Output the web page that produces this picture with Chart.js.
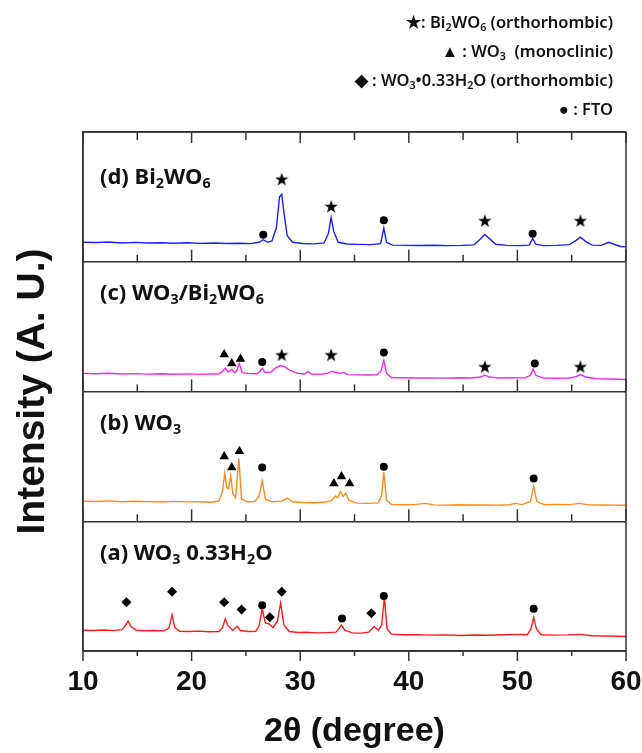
<!DOCTYPE html>
<html>
<head>
<meta charset="utf-8">
<script src="https://cdn.jsdelivr.net/npm/chart.js@4/dist/chart.umd.min.js"></script>
<style>
  body { margin: 0; background: #fff; }
  #wrap { position: relative; width: 642px; height: 753px; }
  #xrd { position: absolute; left: 0; top: 0; }
  .legend { position: absolute; right: 29px; font-family: "Noto Sans", sans-serif; font-weight: 600; font-size: 16.5px; line-height: 20px; color: #111; text-align: right; white-space: nowrap; }
  .lbl { position: absolute; left: 100px; font-family: "Noto Sans", sans-serif; font-weight: 700; font-size: 22px; line-height: 24px; color: #111; white-space: nowrap; }
  sub { font-size: 0.65em; vertical-align: -0.25em; line-height: 0; }
</style>
</head>
<body>
<div id="wrap">
  <canvas id="xrd" width="642" height="753"></canvas>
  <div class="legend" style="top:12px">★: Bi<sub>2</sub>WO<sub>6</sub> (orthorhombic)</div>
  <div class="legend" style="top:41px">▲ : WO<sub>3</sub>&nbsp; (monoclinic)</div>
  <div class="legend" style="top:70px">◆ : WO<sub>3</sub>•0.33H<sub>2</sub>O (orthorhombic)</div>
  <div class="legend" style="top:99px">● : FTO</div>
  <div class="lbl" style="top:163px">(d) Bi<sub>2</sub>WO<sub>6</sub></div>
  <div class="lbl" style="top:279px">(c) WO<sub>3</sub>/Bi<sub>2</sub>WO<sub>6</sub></div>
  <div class="lbl" style="top:409px">(b) WO<sub>3</sub></div>
  <div class="lbl" style="top:539px">(a) WO<sub>3</sub> 0.33H<sub>2</sub>O</div>
</div>
<script>
// 2theta positions and intensities (fraction of a panel height)
const thetaA = [10, 11, 12, 12.8, 13.6, 13.9, 14.15, 14.4, 14.9, 15.8, 16.6, 17.4, 17.9, 18.2, 18.45, 18.9, 19.8, 20.7, 21.6, 22.5, 22.85, 23.1, 23.35, 23.8, 24.2, 24.5, 25.2, 25.9, 26.2, 26.5, 26.8, 27.1, 27.5, 27.9, 28.2, 28.5, 29.0, 29.8, 30.6, 31.5, 32.4, 33.3, 33.6, 33.8, 34.1, 34.8, 35.6, 36.3, 36.8, 37.2, 37.5, 37.75, 38.0, 38.4, 39.5, 40.8, 42.0, 43.4, 44.8, 46.0, 47.3, 48.6, 49.8, 50.9, 51.25, 51.5, 51.75, 52.2, 53.2, 54.6, 55.7, 56.9, 58.1, 59.2, 60];
const intA = [.160, .158, .162, .157, .165, .195, .230, .190, .160, .156, .158, .155, .175, .280, .180, .152, .150, .153, .148, .150, .180, .250, .195, .160, .190, .158, .150, .152, .190, .325, .215, .210, .180, .230, .370, .200, .150, .143, .145, .140, .142, .145, .175, .200, .160, .140, .138, .145, .187, .160, .200, .410, .170, .130, .125, .126, .122, .124, .120, .123, .121, .125, .128, .125, .170, .260, .170, .125, .122, .124, .128, .118, .116, .114, .112];

const thetaB = [10, 11.2, 12.4, 13.6, 14.8, 16.0, 17.2, 18.4, 19.6, 20.8, 21.8, 22.5, 22.85, 23.05, 23.25, 23.4, 23.6, 23.8, 24.05, 24.35, 24.6, 25.1, 25.8, 26.2, 26.5, 26.8, 27.4, 28.3, 28.8, 29.3, 30.2, 31.2, 32.2, 32.9, 33.25, 33.45, 33.7, 33.95, 34.2, 34.5, 35.2, 36.2, 37.2, 37.5, 37.7, 37.95, 38.4, 39.4, 40.5, 41.5, 42.3, 43.4, 44.6, 45.8, 47.0, 48.2, 49.3, 49.8, 50.4, 51.2, 51.5, 51.8, 52.5, 53.6, 54.8, 55.7, 56.6, 57.8, 59.0, 60];
const intB = [.155, .152, .157, .150, .154, .151, .148, .153, .149, .150, .147, .155, .230, .370, .260, .250, .350, .210, .180, .485, .170, .150, .152, .190, .310, .170, .150, .155, .177, .150, .145, .143, .146, .160, .195, .180, .230, .190, .215, .160, .140, .138, .142, .200, .380, .160, .130, .127, .128, .138, .126, .124, .127, .125, .126, .124, .127, .138, .128, .150, .270, .150, .127, .130, .128, .138, .126, .125, .124, .123];

const thetaC = [10, 11.2, 12.4, 13.6, 14.8, 16.0, 17.2, 18.4, 19.6, 20.8, 21.8, 22.5, 22.85, 23.1, 23.35, 23.7, 23.95, 24.15, 24.4, 24.65, 25.3, 26.0, 26.3, 26.5, 26.8, 27.3, 27.8, 28.2, 28.6, 29.1, 29.8, 30.4, 30.7, 31.0, 31.8, 32.5, 32.9, 33.3, 33.7, 34.0, 34.4, 35.2, 36.2, 37.1, 37.45, 37.7, 37.95, 38.4, 39.5, 40.8, 42.0, 43.3, 44.6, 45.8, 46.6, 47.0, 47.4, 48.3, 49.5, 50.7, 51.2, 51.45, 51.7, 52.4, 53.6, 54.8, 55.4, 55.8, 56.3, 57.3, 58.5, 59.3, 60];
const intC = [.140, .137, .141, .135, .138, .134, .137, .133, .136, .132, .135, .136, .155, .180, .150, .170, .145, .160, .215, .145, .138, .137, .155, .180, .145, .150, .185, .200, .190, .160, .140, .135, .155, .135, .132, .140, .155, .148, .140, .146, .130, .128, .127, .128, .160, .240, .140, .108, .106, .104, .105, .103, .106, .104, .112, .126, .112, .104, .106, .105, .125, .173, .125, .103, .102, .104, .115, .130, .112, .098, .096, .094, .092];

const thetaD = [10, 11.2, 12.4, 13.6, 14.8, 16.0, 17.2, 18.4, 19.6, 20.8, 22.0, 23.2, 24.4, 25.4, 26.2, 26.6, 27.0, 27.4, 27.8, 28.1, 28.3, 28.5, 28.8, 29.3, 30.2, 31.2, 32.2, 32.6, 32.85, 33.1, 33.5, 34.3, 35.3, 36.5, 37.4, 37.7, 37.95, 38.5, 39.7, 41.0, 42.3, 43.6, 44.9, 46.0, 46.6, 47.0, 47.4, 48.0, 49.0, 50.2, 51.1, 51.4, 51.7, 52.4, 53.6, 54.8, 55.4, 55.8, 56.3, 56.9, 57.7, 58.4, 58.9, 59.5, 60];
const intD = [.150, .148, .152, .145, .149, .144, .147, .143, .146, .142, .144, .141, .143, .140, .150, .170, .150, .160, .260, .500, .520, .380, .200, .150, .141, .138, .145, .220, .340, .230, .150, .137, .134, .132, .140, .260, .150, .128, .126, .125, .127, .124, .126, .130, .175, .210, .180, .135, .126, .124, .128, .180, .135, .124, .126, .132, .165, .190, .155, .128, .126, .150, .135, .118, .115];

// phase markers: [2theta, height] per panel
const starsD = [[28.3, .64], [32.85, .43], [47.0, .32], [55.8, .32]];
const ftoD = [[26.6, .208], [37.7, .32], [51.4, .215]];
const triC = [[23.0, .286], [23.7, .215], [24.5, .25]];
const ftoC = [[26.5, .228], [37.7, .30], [51.6, .215]];
const starsC = [[28.3, .286], [32.85, .286], [47.0, .195], [55.8, .195]];
const triB = [[23.0, .50], [23.7, .415], [24.4, .54], [33.1, .29], [33.8, .345], [34.55, .29]];
const ftoB = [[26.5, .415], [37.7, .42], [51.5, .33]];
const diaA = [[14.0, .375], [18.2, .457], [23.0, .375], [24.6, .32], [27.2, .26], [28.3, .457], [36.55, .29]];
const ftoA = [[26.5, .352], [33.85, .25], [37.7, .424], [51.5, .325]];

const xTicks = [10, 15, 20, 25, 30, 35, 40, 45, 50, 55, 60];

const trace = (th, v, off) => th.map((t, i) => ({ x: t, y: v[i] + off }));
const marks = (list, off) => list.map(([t, v]) => ({ x: t, y: v + off }));

function starImage(size) {
  const c = document.createElement('canvas');
  c.width = c.height = size;
  const g = c.getContext('2d');
  g.fillStyle = '#000';
  g.beginPath();
  for (let i = 0; i < 10; i++) {
    const r = i % 2 ? size * 0.2 : size * 0.5;
    const a = -Math.PI / 2 + i * Math.PI / 5;
    g.lineTo(size / 2 + r * Math.cos(a), size / 2 + 1 + r * Math.sin(a));
  }
  g.closePath();
  g.fill();
  return c;
}

const lineDs = (data, color) => ({ type: 'line', data, borderColor: color, borderWidth: 1.4, pointRadius: 0, tension: 0, order: 2 });
const markDs = (data, style, r) => ({ type: 'scatter', data, pointStyle: style, pointRadius: r, backgroundColor: '#000', borderColor: '#000', borderWidth: 0, order: 1 });

const frameTicks = {
  id: 'frameTicks',
  afterDraw(chart) {
    const { ctx, chartArea: { left, right, top, bottom }, scales: { x, y } } = chart;
    ctx.save();
    ctx.strokeStyle = '#333';
    ctx.lineWidth = 1.5;
    ctx.strokeRect(left, top, right - left, bottom - top);
    ctx.beginPath();
    xTicks.forEach(v => {
      const px = x.getPixelForValue(v);
      const major = v % 10 === 0;
      ctx.moveTo(px, top); ctx.lineTo(px, top + (major ? 11 : 8));
      [1, 2, 3].forEach(b => {
        const py = y.getPixelForValue(b);
        ctx.moveTo(px, py); ctx.lineTo(px, py - (major ? 12 : 7));
      });
      ctx.moveTo(px, bottom); ctx.lineTo(px, bottom + (major ? 10 : 5));
    });
    ctx.stroke();
    ctx.restore();
  }
};

const axisFont = "'Liberation Sans', Arial, sans-serif";

new Chart(document.getElementById('xrd'), {
  data: {
    datasets: [
      lineDs(trace(thetaA, intA, 0), '#ff1a1a'),
      lineDs(trace(thetaB, intB, 1), '#ff8a1f'),
      lineDs(trace(thetaC, intC, 2), '#f028f0'),
      lineDs(trace(thetaD, intD, 3), '#1e1eff'),
      markDs([...marks(starsD, 3), ...marks(starsC, 2)], starImage(14), 7),
      markDs([...marks(triC, 2), ...marks(triB, 1)], 'triangle', 5.5),
      markDs(marks(diaA, 0), 'rectRot', 5),
      markDs([...marks(ftoD, 3), ...marks(ftoC, 2), ...marks(ftoB, 1), ...marks(ftoA, 0)], 'circle', 4)
    ]
  },
  options: {
    responsive: false,
    animation: false,
    layout: { padding: { top: 132, right: 16, left: 0, bottom: 0 } },
    plugins: { legend: { display: false }, tooltip: { enabled: false } },
    scales: {
      x: {
        type: 'linear', min: 10, max: 60,
        ticks: { stepSize: 10, autoSkip: false, maxRotation: 0, padding: 14, color: '#111', font: { family: axisFont, size: 28, weight: 'bold' } },
        grid: { display: false, drawTicks: false },
        border: { display: true, color: '#333', width: 1.5 },
        title: { display: true, text: '2θ (degree)', color: '#111', font: { family: axisFont, size: 34, weight: 'bold', lineHeight: 1.05 } },
        afterFit(s) { s.height = 102; s.paddingLeft = 0; s.paddingRight = 0; }
      },
      y: {
        min: 0, max: 4,
        ticks: { display: false, stepSize: 1 },
        grid: { color: '#333', lineWidth: 1.5, drawTicks: false },
        border: { display: true, color: '#333', width: 1.5 },
        title: { display: true, text: 'Intensity (A. U.)', color: '#111', font: { family: axisFont, size: 39, weight: 'bold', lineHeight: 1.5 } },
        afterFit(s) { s.width = 83; }
      }
    }
  },
  plugins: [frameTicks]
});
</script>
</body>
</html>
